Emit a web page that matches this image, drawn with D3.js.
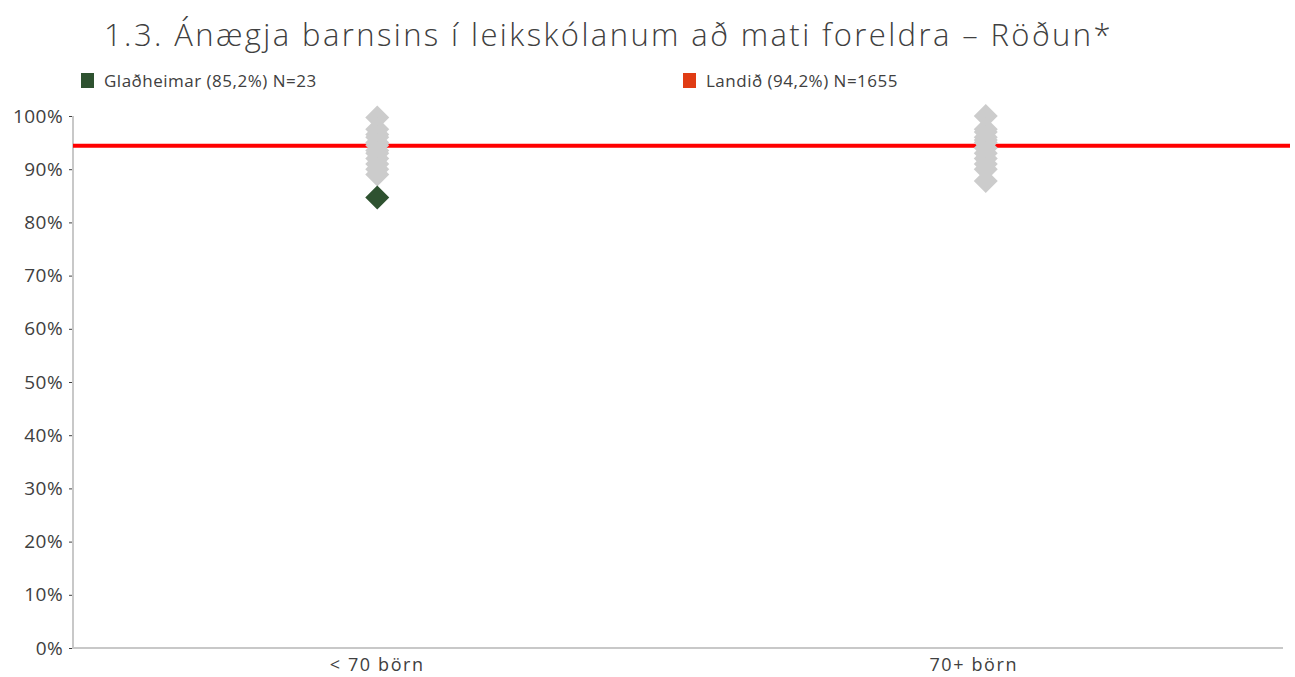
<!DOCTYPE html>
<html>
<head>
<meta charset="utf-8">
<script src="https://cdn.jsdelivr.net/npm/d3@7"></script>
<style>
  body { margin: 0; background: #fff; }
  text { font-family: "Open Sans", "Lato", sans-serif; fill: #404040; }
</style>
</head>
<body>
<div class="chart"></div>
<script>
var categories = ["< 70 börn", "70+ börn"]
// other kindergartens (gray)
var others1 = [99.7, 97.5, 96.5, 96, 95, 94.5, 93.5, 93, 92, 91, 90, 89]
var others2 = [100, 97.5, 97, 96, 95.5, 95, 94, 93, 92, 91, 90, 87.8]
var school = [{ cat: "< 70 börn", value: 84.7 }]
var national = 94.4
var yTicks = [0, 10, 20, 30, 40, 50, 60, 70, 80, 90, 100]

var svg = d3.select(".chart")
  .append("svg")
  .attr("width", 1295)
  .attr("height", 677)

var x = d3.scaleBand().domain(categories).range([73, 1290])
var y = d3.scaleLinear().domain([0, 100]).range([648, 116])

// title
svg.append("text")
  .attr("x", 104)
  .attr("y", 46)
  .text("1.3. Ánægja barnsins í leikskólanum að mati foreldra – Röðun*")
  .style("font-size", "31px")
  .style("font-weight", 300)
  .style("letter-spacing", "2.4px")

// legend
svg.append("rect").attr("x", 81).attr("y", 73).attr("width", 13).attr("height", 15).style("fill", "#2e5230")
svg.append("text").attr("x", 104).attr("y", 87).text("Glaðheimar (85,2%) N=23")
  .style("font-size", "17px").style("letter-spacing", "0.5px")
svg.append("rect").attr("x", 683).attr("y", 73).attr("width", 13).attr("height", 15).style("fill", "#e03c14")
svg.append("text").attr("x", 706).attr("y", 87).text("Landið (94,2%) N=1655")
  .style("font-size", "17px").style("letter-spacing", "0.5px")

// y axis
var yAxis = svg.append("g")
  .attr("transform", "translate(73,0)")
  .call(d3.axisLeft(y).tickValues(yTicks).tickSize(4).tickPadding(6).tickFormat(d => d + "%"))
yAxis.select(".domain").remove()
yAxis.selectAll("line").style("stroke", "#404040")
yAxis.selectAll("text").style("font-size", "19px").style("font-family", "'Open Sans', sans-serif")
  .style("fill", "#404040").style("letter-spacing", "0.4px")

svg.append("line")
  .attr("x1", 73).attr("y1", y(100))
  .attr("x2", 73).attr("y2", y(0))
  .style("stroke", "#c8c8c8").style("stroke-width", 2)

// x axis
svg.append("line")
  .attr("x1", 72).attr("y1", y(0))
  .attr("x2", 1283).attr("y2", y(0))
  .style("stroke", "#c8c8c8").style("stroke-width", 2)

var xAxis = svg.append("g")
  .attr("transform", "translate(0," + y(0) + ")")
  .call(d3.axisBottom(x).tickSize(0).tickPadding(10))
xAxis.select(".domain").remove()
xAxis.selectAll("text").style("font-size", "18px").style("font-family", "'Open Sans', sans-serif")
  .style("fill", "#404040").style("letter-spacing", "1.6px")
xAxis.selectAll(".tick").filter((d, i) => i == 1).select("text").attr("dx", -12)

// national line
svg.append("line")
  .attr("x1", 73).attr("y1", y(national))
  .attr("x2", 1290).attr("y2", y(national))
  .style("stroke", "#ff0000").style("stroke-width", 4)

var diamond = "M0,-12L12,0L0,12L-12,0Z"

function drawGray(values, cat) {
  svg.selectAll(null)
    .data(values)
    .enter()
    .append("path")
    .attr("d", diamond)
    .attr("transform", d => "translate(" + (x(cat) + x.bandwidth() / 2) + "," + y(d) + ")")
    .style("fill", "#cccccc")
}
drawGray(others1, categories[0])
drawGray(others2, categories[1])

svg.selectAll(null)
  .data(school)
  .enter()
  .append("path")
  .attr("d", diamond)
  .attr("transform", d => "translate(" + (x(d.cat) + x.bandwidth() / 2) + "," + y(d.value) + ")")
  .style("fill", "#2e5230")
</script>
</body>
</html>
